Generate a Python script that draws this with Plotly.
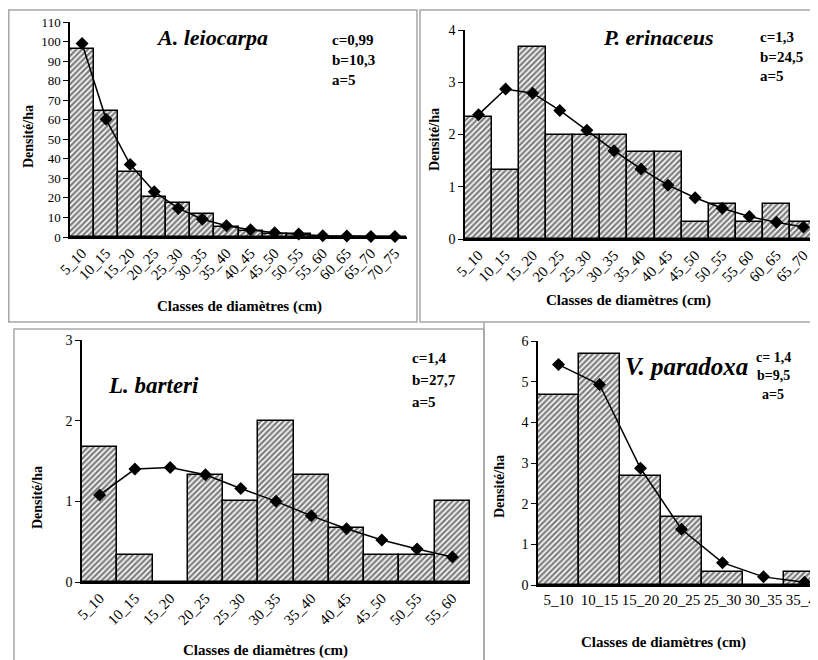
import plotly.graph_objects as go

W, H = 818, 660
OFF = 8  # page body margin compensation
def X(px): return (px - OFF) / W
def Y(py): return 1 - (py - OFF) / H

# ---------------- data ----------------
cls_a = ["5_10","10_15","15_20","20_25","25_30","30_35","35_40","40_45","45_50","50_55","55_60","60_65","65_70","70_75"]
obs_a = [96.3, 64.6, 33.3, 20.4, 17.2, 11.6, 5.0, 3.3, 1.7, 1.7, 0.0, 0.0, 0.0, 0.0]
fit_a = [99, 60.2, 37.1, 23.2, 14.6, 9.1, 5.8, 3.7, 2.2, 1.5, 0.6, 0.5, 0.3, 0.3]

cls_p = ["5_10","10_15","15_20","20_25","25_30","30_35","35_40","40_45","45_50","50_55","55_60","60_65","65_70"]
obs_p = [2.33, 1.33, 3.67, 2.0, 2.0, 2.0, 1.67, 1.67, 0.33, 0.67, 0.33, 0.67, 0.33]
fit_p = [2.38, 2.87, 2.79, 2.46, 2.08, 1.69, 1.34, 1.03, 0.79, 0.59, 0.43, 0.32, 0.23]

cls_l = ["5_10","10_15","15_20","20_25","25_30","30_35","35_40","40_45","45_50","50_55","55_60"]
obs_l = [1.67, 0.33, 0.0, 1.33, 1.0, 2.0, 1.33, 0.67, 0.33, 0.33, 1.0]
fit_l = [1.08, 1.40, 1.42, 1.33, 1.16, 1.0, 0.82, 0.66, 0.52, 0.41, 0.31]

cls_v = ["5_10","10_15","15_20","20_25","25_30","30_35","35_40"]
obs_v = [4.67, 5.67, 2.67, 1.67, 0.33, 0.0, 0.33]
fit_v = [5.42, 4.93, 2.87, 1.37, 0.55, 0.2, 0.07]

titles = ["A. leiocarpa", "P. erinaceus", "L. barteri", "V. paradoxa"]
params = [["c=0,99", "b=10,3", "a=5"], ["c=1,3", "b=24,5", "a=5"],
          ["c=1,4", "b=27,7", "a=5"], ["c= 1,4", "b=9,5", "a=5"]]
ytitle = "Densité/ha"
xtitle = "Classes de diamètres (cm)"

SERIF = "Liberation Serif"

panels = [
    dict(cls=cls_a, obs=obs_a, fit=fit_a, xl=70, xr=407, yb=237, yt=22, ymax=110, dt=10, xr_cat=13.5, ang=-45, yfs=13, xfs=15),
    dict(cls=cls_p, obs=obs_p, fit=fit_p, xl=465, xr=817, yb=239, yt=30, ymax=4, dt=1, xr_cat=12.5, ang=-45, yfs=14, xfs=15),
    dict(cls=cls_l, obs=obs_l, fit=fit_l, xl=82, xr=470, yb=582, yt=340, ymax=3, dt=1, xr_cat=10.5, ang=-45, yfs=14, xfs=15),
    dict(cls=cls_v, obs=obs_v, fit=fit_v, xl=538, xr=818, yb=585, yt=341, ymax=6, dt=1, xr_cat=6.33, ang=0, yfs=14, xfs=15),
]

fig = go.Figure()
layout = dict(width=W, height=H, margin=dict(l=0, r=0, t=0, b=0, pad=0, autoexpand=False),
              paper_bgcolor="white", plot_bgcolor="rgba(0,0,0,0)",
              showlegend=False, bargap=0, font=dict(family=SERIF, color="black"))

for i, p in enumerate(panels):
    n = "" if i == 0 else str(i + 1)
    xa, ya = "x" + n, "y" + n
    fig.add_trace(go.Bar(
        x=p["cls"], y=p["obs"], xaxis=xa, yaxis=ya, width=1.0,
        marker=dict(color="white", line=dict(color="black", width=1.5),
                    pattern=dict(shape="/", fgcolor="black", bgcolor="white", size=4, solidity=0.6)),
    ))
    fig.add_trace(go.Scatter(
        x=p["cls"], y=p["fit"], xaxis=xa, yaxis=ya, mode="lines+markers",
        line=dict(color="black", width=1.5),
        marker=dict(symbol="diamond", size=10, color="black"),
        cliponaxis=(i == 3),
    ))
    layout["xaxis" + n] = dict(
        domain=[X(p["xl"]), min(1.0, X(p["xr"]))], anchor=ya, type="category",
        range=[-0.5, p["xr_cat"]], showline=True, linecolor="black", linewidth=1.5,
        ticks="", tickangle=p["ang"], showgrid=False, zeroline=False, automargin=False,
        tickfont=dict(family=SERIF, size=p["xfs"], color="black"),
    )
    layout["yaxis" + n] = dict(
        domain=[Y(p["yb"]), Y(p["yt"])], anchor=xa, range=[0, p["ymax"]], dtick=p["dt"],
        showline=True, linecolor="black", linewidth=1.5, ticks="outside", ticklen=5,
        tickcolor="black", showgrid=False, zeroline=False, automargin=False,
        tickfont=dict(family=SERIF, size=p["yfs"], color="black"),
    )

fig.update_layout(**layout)

ann = []
def add(text, x, y, size=15, bold=True, italic=False, angle=0, xanchor="center"):
    t = text
    if italic:
        t = "<i>" + t + "</i>"
    if bold:
        t = "<b>" + t + "</b>"
    ann.append(dict(text=t, x=X(x), y=Y(y), xref="paper", yref="paper", showarrow=False,
                    xanchor=xanchor, yanchor="middle", textangle=angle,
                    font=dict(family=SERIF, size=size, color="black")))

# species titles
add(titles[0], 212, 37, size=22, italic=True)
add(titles[1], 658, 37, size=22, italic=True)
add(titles[2], 106, 385, size=23, italic=True, xanchor="left")
add(titles[3], 623, 366, size=25, italic=True, xanchor="left")

# parameters
for k, (xx, y0, dy, xa) in enumerate([(330, 40, 20, "left"), (758, 37, 19.5, "left"),
                                       (410, 358, 22, "left"), (773, 357, 18.5, "center")]):
    for j, s in enumerate(params[k]):
        add(s, xx, y0 + j * dy, size=15 if k != 3 else 14, xanchor=xa)

# axis titles
for (x, y) in [(28, 137), (435, 140), (37, 497), (500, 487)]:
    add(ytitle, x, y, size=14, angle=-90)
for (x, y) in [(240, 306), (628, 300), (265, 650), (663, 642)]:
    add(xtitle, x, y, size=15)

fig.update_layout(annotations=ann)

border = dict(color="#a6a6a6", width=1.5)
shapes = [
    dict(type="rect", xref="paper", yref="paper", x0=X(8.8), x1=X(417), y0=Y(322), y1=Y(10), line=border),
    dict(type="rect", xref="paper", yref="paper", x0=X(420), x1=X(830), y0=Y(322), y1=Y(10), line=border),
    dict(type="rect", xref="paper", yref="paper", x0=X(14), x1=X(484), y0=Y(680), y1=Y(329), line=border),
    dict(type="line", xref="paper", yref="paper", x0=X(484), x1=X(484), y0=Y(680), y1=Y(322), line=border),
]
fig.update_layout(shapes=shapes)

fig.write_html("out.html")
